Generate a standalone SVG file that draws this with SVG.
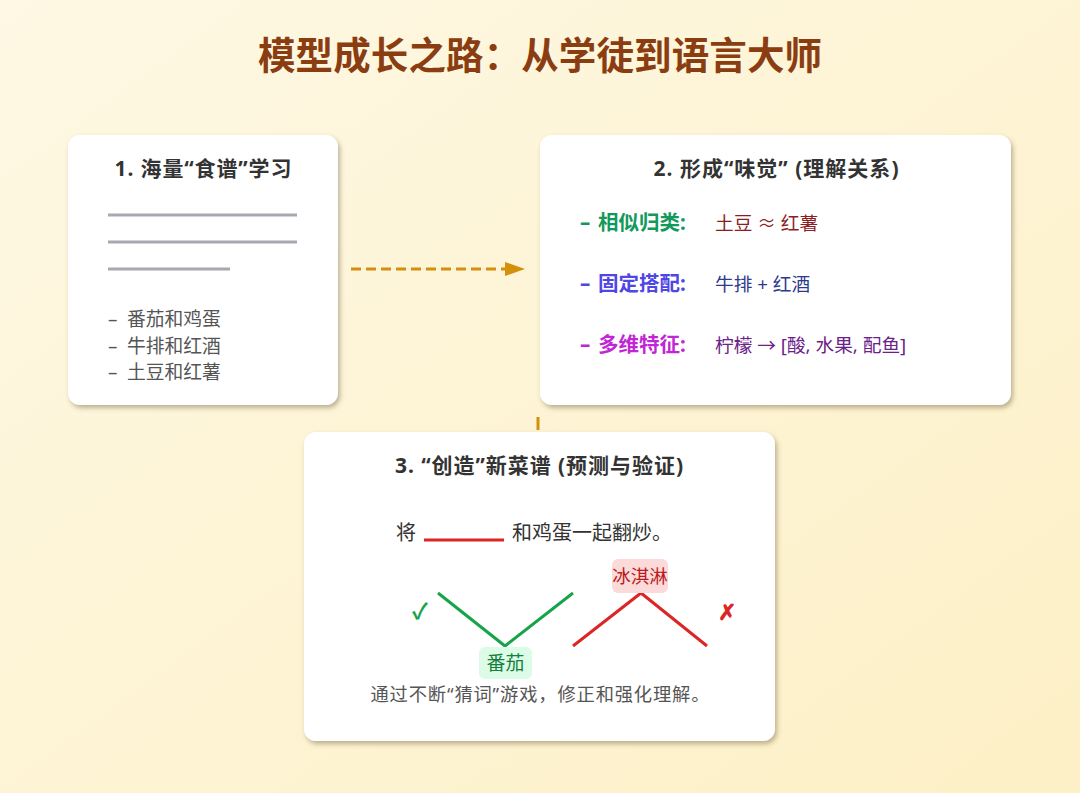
<svg xmlns="http://www.w3.org/2000/svg" width="1080" height="793" viewBox="0 0 1080 793">
<defs>
<linearGradient id="bg" x1="0" y1="0" x2="1" y2="1">
<stop offset="0" stop-color="#fef8e4"/>
<stop offset="1" stop-color="#fdf0c6"/>
</linearGradient>
<filter id="sh" x="-10%" y="-10%" width="125%" height="130%">
<feDropShadow dx="2" dy="3" stdDeviation="2.5" flood-color="#6b5a3a" flood-opacity="0.45"/>
</filter>
<style>
text{font-family:"Noto Sans","Noto Sans CJK SC",sans-serif}
.card{fill:#ffffff;filter:url(#sh)}
.ttl{font-size:21px;font-weight:bold;fill:#333333;text-anchor:middle}
.gl{stroke:#a9a8b2;stroke-width:3}
.li{font-size:18.8px;fill:#555555}
.lab{font-size:20.5px;font-weight:bold}
.val{font-size:18.7px}
.conn{stroke:#d4900a;stroke-width:3;fill:none;stroke-dasharray:10 5}
</style>
</defs>
<rect x="0" y="0" width="1080" height="793" fill="url(#bg)"/>
<text x="540" y="69" text-anchor="middle" textLength="564" style="font-size:37.5px;font-weight:bold;fill:#8b3d12">模型成长之路：从学徒到语言大师</text>

<g id="connectors">
<line class="conn" x1="351" y1="269" x2="507" y2="269"/>
<polygon points="505,262 525,269 505,276" fill="#d4900a"/>
<line x1="538" y1="417" x2="538" y2="430" stroke="#d4900a" stroke-width="3"/>
</g>

<g id="node1">
<rect class="card" x="68" y="135" width="270" height="270" rx="12"/>
<text class="ttl" x="203" y="176" textLength="177">1. 海量“食谱”学习</text>
<line class="gl" x1="108" y1="215" x2="297" y2="215"/>
<line class="gl" x1="108" y1="242" x2="297" y2="242"/>
<line class="gl" x1="108" y1="269" x2="230" y2="269"/>
<text class="li" x="108" y="326">– <tspan x="127">番茄和鸡蛋</tspan></text>
<text class="li" x="108" y="353">– <tspan x="127">牛排和红酒</tspan></text>
<text class="li" x="108" y="379">– <tspan x="127">土豆和红薯</tspan></text>
</g>

<g id="node2">
<rect class="card" x="540" y="135" width="471" height="270" rx="12"/>
<text class="ttl" x="776" y="176" textLength="245">2. 形成“味觉” (理解关系)</text>
<text class="lab" x="580" y="230" fill="#12995c">– <tspan x="598">相似归类:</tspan></text>
<text class="val" x="715" y="230" fill="#8b1f1f">土豆 ≈ 红薯</text>
<text class="lab" x="580" y="291" fill="#4f46e5">– <tspan x="598">固定搭配:</tspan></text>
<text class="val" x="715" y="291" fill="#2e3a8c">牛排 + 红酒</text>
<text class="lab" x="580" y="352" fill="#c026d3">– <tspan x="598">多维特征:</tspan></text>
<text class="val" x="715" y="352" fill="#6b2189">柠檬 → [酸, 水果, 配鱼]</text>
</g>

<g id="node3">
<rect class="card" x="304" y="432" width="471" height="309" rx="12"/>
<text class="ttl" x="539" y="473" textLength="288">3. “创造”新菜谱 (预测与验证)</text>
<text x="396" y="540" style="font-size:20px;fill:#333333">将</text>
<line x1="424" y1="540" x2="504" y2="540" stroke="#dc2626" stroke-width="3"/>
<text x="512" y="540" style="font-size:20px;fill:#333333">和鸡蛋一起翻炒。</text>
<polyline points="438,593 505,646 573,593" fill="none" stroke="#16a34a" stroke-width="3"/>
<polyline points="573,646 641,593 707,646" fill="none" stroke="#dc2626" stroke-width="3"/>
<rect x="612" y="559" width="56" height="34" rx="6" fill="#fcdada"/>
<text x="640" y="583" text-anchor="middle" style="font-size:18.5px;fill:#b91c1c">冰淇淋</text>
<rect x="479" y="647" width="53" height="32" rx="6" fill="#dcfce7"/>
<text x="505.5" y="670" text-anchor="middle" style="font-size:19px;fill:#15803d">番茄</text>
<text x="420" y="619" text-anchor="middle" style="font-size:22px;font-weight:bold;fill:#16a34a">✓</text>
<text x="727" y="620" text-anchor="middle" style="font-size:22px;font-weight:bold;fill:#dc2626">✗</text>
<text x="540" y="701" text-anchor="middle" textLength="339" style="font-size:18.3px;fill:#555555">通过不断“猜词”游戏，修正和强化理解。</text>
</g>
</svg>
